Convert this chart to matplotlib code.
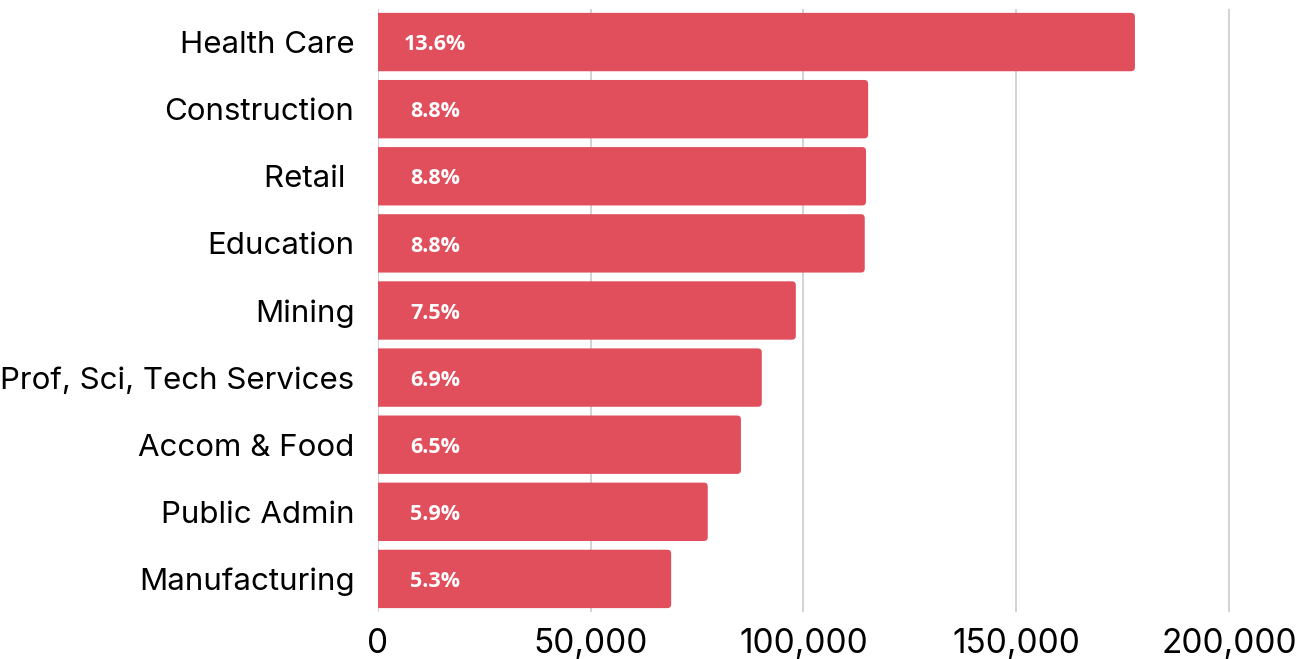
import matplotlib.pyplot as plt
from matplotlib.patches import FancyBboxPatch

industries = ['Health Care', 'Construction', 'Retail ', 'Education', 'Mining',
              'Prof, Sci, Tech Services', 'Accom & Food', 'Public Admin',
              'Manufacturing']
workers = [177900, 115200, 114700, 114400, 98200, 90200, 85300, 77500, 68900]
shares = ['13.6%', '8.8%', '8.8%', '8.8%', '7.5%', '6.9%', '6.5%', '5.9%', '5.3%']

BAR = '#E14F5D'

fig = plt.figure(figsize=(13.13, 6.59), dpi=100)
ax = fig.add_axes([0.2879, 0.0706, 0.6967, 0.9165])

pos = list(range(len(industries)))
bars = ax.barh(pos, workers, height=0.87, color=BAR, zorder=2)

# swap the plain rectangles for ones with slightly rounded right corners
for b in bars:
    x, y = b.get_x(), b.get_y()
    w, h = b.get_width(), b.get_height()
    b.set_visible(False)
    p = FancyBboxPatch((x - 2000, y), w + 2000, h,
                       boxstyle='round,pad=0,rounding_size=900',
                       mutation_aspect=6.5e-5, facecolor=BAR,
                       edgecolor='none', zorder=2)
    ax.add_patch(p)

for yi, s in zip(pos, shares):
    ax.text(13400, yi + 0.04, s, ha='center', va='center', color='white',
            fontsize=15.5, fontweight='bold', family='Open Sans', zorder=3)

ax.set_xlim(0, 215000)
ax.set_ylim(len(industries) - 0.5, -0.5)
ax.set_yticks(pos)
ax.set_yticklabels(industries, family='Inter', fontsize=22.5)
ax.set_xticks([0, 50000, 100000, 150000, 200000])
ax.set_xticklabels(['0', '50,000', '100,000', '150,000', '200,000'],
                   family='Inter', fontsize=24)
ax.tick_params(axis='both', length=0, colors='black')
ax.tick_params(axis='x', pad=11)
ax.tick_params(axis='y', pad=17)

ax.grid(axis='x', color='#CCCCCC', linewidth=1.2, zorder=0)
ax.set_axisbelow(True)
for s in ax.spines.values():
    s.set_visible(False)

fig.savefig('out.png', dpi=100, facecolor='white')
